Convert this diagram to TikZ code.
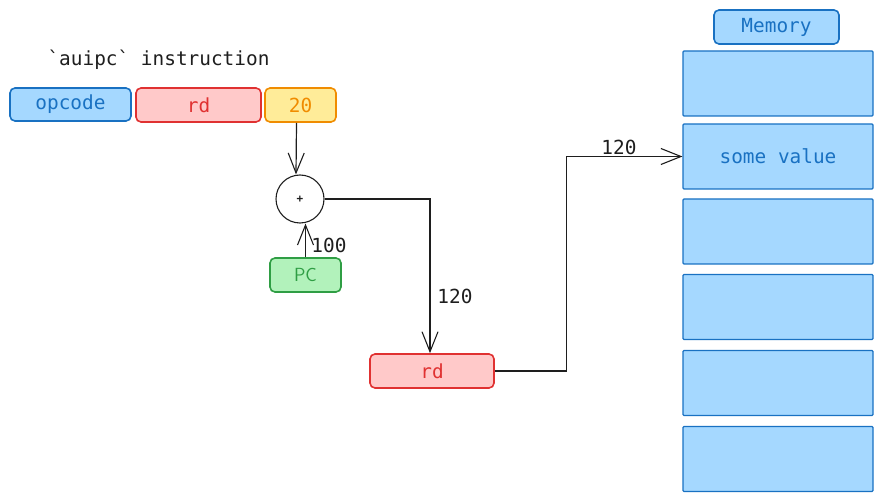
\documentclass[tikz,border=0pt]{standalone}
\usepackage{fontspec}
\setmainfont{Liberation Sans}
\setmonofont{DejaVu Sans Mono}
\usetikzlibrary{arrows.meta}
\definecolor{bluefill}{HTML}{A5D8FF}
\definecolor{bluedraw}{HTML}{1971C2}
\definecolor{redfill}{HTML}{FFC9C9}
\definecolor{reddraw}{HTML}{E03131}
\definecolor{yellowfill}{HTML}{FFEC99}
\definecolor{yellowdraw}{HTML}{F08C00}
\definecolor{greenfill}{HTML}{B2F2BB}
\definecolor{greendraw}{HTML}{2F9E44}
\definecolor{ink}{HTML}{1E1E1E}
\tikzset{
  field/.style={draw, line width=1.6pt, rounded corners=5pt, inner sep=0pt,
    font=\ttfamily\fontsize{19.4}{21}\selectfont},
  memcell/.style={draw=bluedraw, fill=bluefill, line width=1.2pt, rounded corners=1pt,
    minimum width=190pt, minimum height=65pt, inner sep=0pt, text=bluedraw,
    font=\ttfamily\fontsize{19.4}{21}\selectfont},
  wire/.style={draw=ink, line width=1.2pt},
  sketcharrow/.style={wire, -{Straight Barb[length=20pt,width=16pt,line width=1.1pt]}},
  value/.style={text=ink, font=\ttfamily\fontsize{19.4}{21}\selectfont, inner sep=0pt}
}
\begin{document}
\begin{tikzpicture}[x=1pt,y=-1pt]
\useasboundingbox (0,0) rectangle (883,502);

% instruction fields
\node[value] (title) at (158.5,60) {`auipc` instruction};
\node[field, draw=bluedraw, fill=bluefill, text=bluedraw, minimum width=121pt, minimum height=33pt] (opcode) at (70.5,104.5) {opcode};
\node[field, draw=reddraw, fill=redfill, text=reddraw, minimum width=125pt, minimum height=34pt] (rd) at (198.5,105) {rd};
\node[field, draw=yellowdraw, fill=yellowfill, text=yellowdraw, minimum width=71pt, minimum height=34pt] (imm) at (300.5,105) {20};

% adder and pc
\node[draw=ink, line width=1.1pt, circle, minimum size=48pt, inner sep=0pt, text=ink, font=\bfseries\ttfamily\fontsize{11}{12}\selectfont] (add) at (300,199) {+};
\node[field, draw=greendraw, fill=greenfill, text=greendraw, minimum width=71pt, minimum height=34pt, font=\sffamily\fontsize{19}{21}\selectfont] (pc) at (305.5,275) {PC};
\node[field, draw=reddraw, fill=redfill, text=reddraw, minimum width=124pt, minimum height=34pt] (rdout) at (432,371) {rd};

% memory
\node[field, draw=bluedraw, fill=bluefill, text=bluedraw, minimum width=125pt, minimum height=34pt] (memory) at (776.5,27) {Memory};
\node[memcell] (cell1) at (778,83.5) {};
\node[memcell] (cell2) at (778,156.5) {some value};
\node[memcell] (cell3) at (778,231.5) {};
\node[memcell] (cell4) at (778,307) {};
\node[memcell] (cell5) at (778,383) {};
\node[memcell] (cell6) at (778,459) {};

\path[sketcharrow] ([xshift=-4pt]imm.south) -- ([xshift=-4pt]add.north);
\path[sketcharrow] (pc.north) -- (pc.north |- add.south);
\path[sketcharrow] (add.east) -| ([xshift=-2pt]rdout.north);
\path[sketcharrow] (rdout.east) -- ++(72,0) |- (cell2.west);

\node[value] (lbl100) at (329,245) {100};
\node[value] (lblrd) at (455,296) {120};
\node[value] (lblmem) at (619,147) {120};
\end{tikzpicture}
\end{document}
